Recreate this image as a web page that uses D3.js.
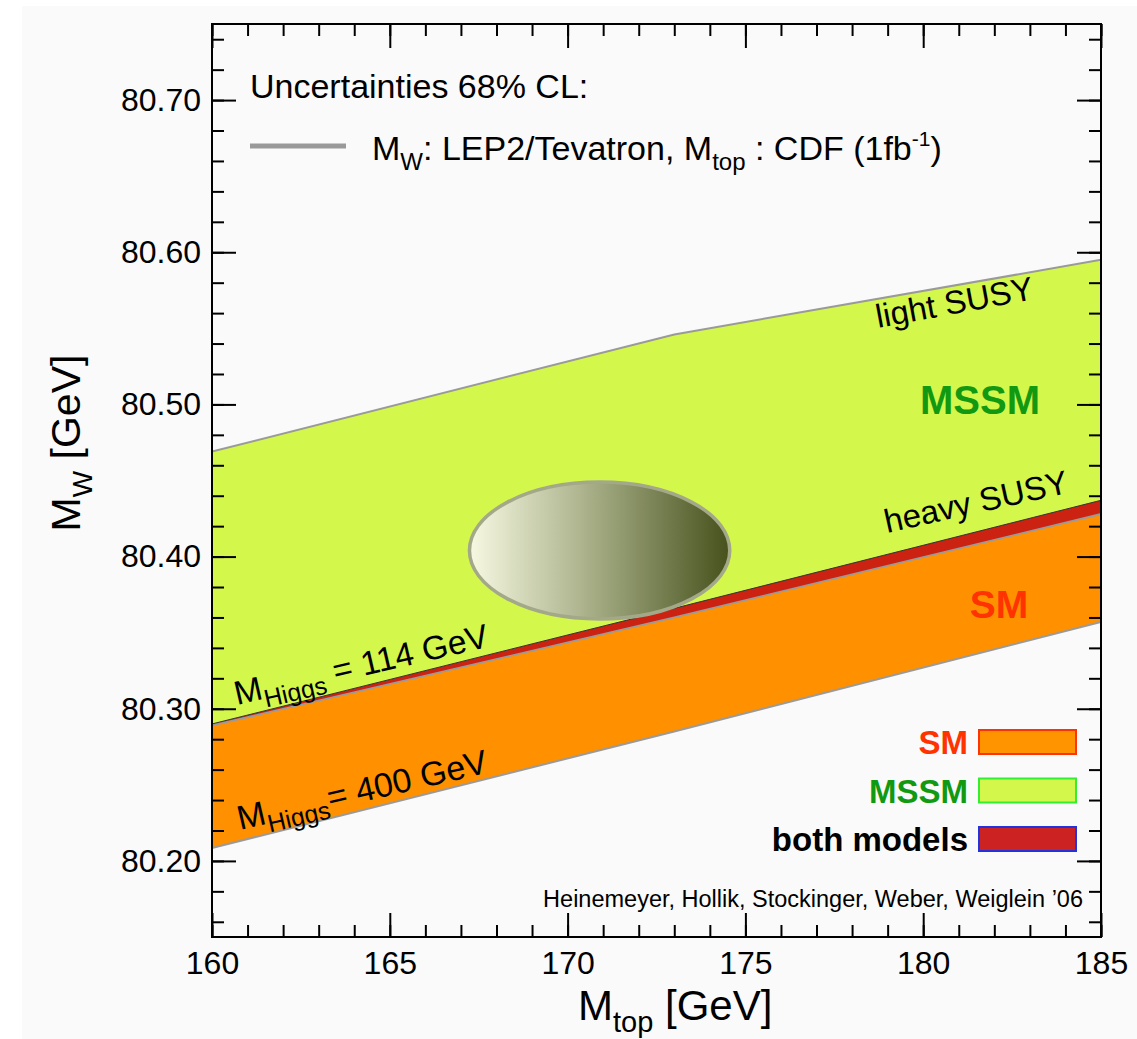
<!DOCTYPE html>
<html>
<head>
<meta charset="utf-8">
<script src="https://cdn.jsdelivr.net/npm/d3@7"></script>
<style>
  html, body { margin: 0; padding: 0; background: #ffffff; }
  svg { display: block; }
  text { font-family: "Liberation Sans", Arial, Helvetica, sans-serif; }
</style>
</head>
<body>
<svg id="chart" width="1137" height="1039"></svg>
<script>
// Top-quark mass grid (GeV) at which the band edges are sampled
const mtGrid = [160, 173, 185];
// MSSM upper edge (light SUSY), M_W in GeV
const mssmUpper = [80.469, 80.546, 80.595];
// SM upper edge, M_Higgs = 114 GeV (top of the overlap strip)
const smUpper = [80.290, 80.366, 80.437];
// MSSM lower edge, heavy SUSY (bottom of the overlap strip)
const mssmLower = [80.289, 80.360, 80.428];
// SM lower edge, M_Higgs = 400 GeV
const smLower = [80.2085, 80.285, 80.357];

// Experimental 68% CL ellipse: centre and half-widths (M_top, M_W)
const fitCenter = [170.9, 80.404];
const fitHalfWidth = [3.66, 0.045];

// Axis ticks
const xMajor = [160, 165, 170, 175, 180, 185];
const xMinor = d3.range(160, 186, 1);
const yMajor = [80.20, 80.30, 80.40, 80.50, 80.60, 80.70];
const yMinor = d3.range(80.16, 80.75, 0.02).map(v => +v.toFixed(2));

// Legend entries (bottom right)
const legendLabels = ["SM", "MSSM", "both models"];
const legendText = ["#ff3300", "#119911", "#000000"];
const legendFill = ["#ff9400", "#d4f74c", "#cc2222"];
const legendStroke = ["#ff3300", "#33ee33", "#2233dd"];

const svg = d3.select("#chart");
const W = 1137, H = 1039;
const m = { left: 212, right: 1101, top: 24, bottom: 937 };

svg.append("rect").attr("x", 22).attr("y", 6).attr("width", W - 22).attr("height", H - 6)
  .attr("fill", "#fafafa");

const x = d3.scaleLinear().domain([160, 185]).range([m.left, m.right]);
const y = d3.scaleLinear().domain([80.15, 80.75]).range([m.bottom, m.top]);

const defs = svg.append("defs");
defs.append("clipPath").attr("id", "plotClip")
  .append("rect").attr("x", m.left).attr("y", m.top)
  .attr("width", m.right - m.left).attr("height", m.bottom - m.top);

const grad = defs.append("linearGradient").attr("id", "fitGrad")
  .attr("x1", "0%").attr("x2", "100%").attr("y1", "0%").attr("y2", "0%");
grad.append("stop").attr("offset", "0%").attr("stop-color", "#f7f9e2");
grad.append("stop").attr("offset", "45%").attr("stop-color", "#aab18a");
grad.append("stop").attr("offset", "100%").attr("stop-color", "#46511c");

const plot = svg.append("g").attr("clip-path", "url(#plotClip)");

const band = (top, bottom) => d3.area()
  .x((d, i) => x(mtGrid[i]))
  .y0((d, i) => y(bottom[i]))
  .y1((d, i) => y(top[i]))(mtGrid);
const edge = vals => d3.line().x((d, i) => x(mtGrid[i])).y((d, i) => y(vals[i]))(mtGrid);

// MSSM band
plot.append("path").attr("d", band(mssmUpper, smUpper)).attr("fill", "#d4f74c");
// SM band
plot.append("path").attr("d", band(mssmLower, smLower)).attr("fill", "#ff9000");
// overlap of both models
plot.append("path").attr("d", band(smUpper, mssmLower)).attr("fill", "#cc2211");

plot.append("path").attr("d", edge(mssmUpper)).attr("fill", "none")
  .attr("stroke", "#9a9a9a").attr("stroke-width", 2);
plot.append("path").attr("d", edge(smUpper)).attr("fill", "none")
  .attr("stroke", "#333").attr("stroke-width", 1);
plot.append("path").attr("d", edge(mssmLower)).attr("fill", "none")
  .attr("stroke", "#9a9a9a").attr("stroke-width", 1.8);
plot.append("path").attr("d", edge(smLower)).attr("fill", "none")
  .attr("stroke", "#9a9a9a").attr("stroke-width", 2);

// experimental ellipse
plot.append("ellipse")
  .attr("cx", x(fitCenter[0])).attr("cy", y(fitCenter[1]))
  .attr("rx", x(fitCenter[0] + fitHalfWidth[0]) - x(fitCenter[0]))
  .attr("ry", y(fitCenter[1] - fitHalfWidth[1]) - y(fitCenter[1]))
  .attr("fill", "url(#fitGrad)").attr("stroke", "#a3a889").attr("stroke-width", 3.5);

// axes with inward ticks on all four sides
const fmtY = d3.format(".2f");
const styleAxis = g => {
  g.select(".domain").remove();
  g.selectAll("line").attr("stroke", "#000").attr("stroke-width", 2);
  g.selectAll("text").style("font-size", "32px").style("fill", "#000");
};
svg.append("g").attr("transform", `translate(0,${m.bottom})`)
  .call(d3.axisBottom(x).tickValues(xMinor).tickSize(-12).tickFormat(""))
  .call(styleAxis);
svg.append("g").attr("transform", `translate(0,${m.bottom})`)
  .call(d3.axisBottom(x).tickValues(xMajor).tickSize(-24).tickPadding(14).tickFormat(d3.format("d")))
  .call(styleAxis);
svg.append("g").attr("transform", `translate(0,${m.top})`)
  .call(d3.axisTop(x).tickValues(xMinor).tickSize(-12).tickFormat(""))
  .call(styleAxis);
svg.append("g").attr("transform", `translate(0,${m.top})`)
  .call(d3.axisTop(x).tickValues(xMajor).tickSize(-24).tickFormat(""))
  .call(styleAxis);
svg.append("g").attr("transform", `translate(${m.left},0)`)
  .call(d3.axisLeft(y).tickValues(yMinor).tickSize(-12).tickFormat(""))
  .call(styleAxis);
svg.append("g").attr("transform", `translate(${m.left},0)`)
  .call(d3.axisLeft(y).tickValues(yMajor).tickSize(-24).tickPadding(11).tickFormat(fmtY))
  .call(styleAxis);
svg.append("g").attr("transform", `translate(${m.right},0)`)
  .call(d3.axisRight(y).tickValues(yMinor).tickSize(-12).tickFormat(""))
  .call(styleAxis);
svg.append("g").attr("transform", `translate(${m.right},0)`)
  .call(d3.axisRight(y).tickValues(yMajor).tickSize(-24).tickFormat(""))
  .call(styleAxis);

svg.append("rect").attr("x", m.left).attr("y", m.top)
  .attr("width", m.right - m.left).attr("height", m.bottom - m.top)
  .attr("fill", "none").attr("stroke", "#000").attr("stroke-width", 2);

// axis titles
const xt = svg.append("text").attr("x", 578).attr("y", 1020).style("font-size", "42px").style("fill", "#000");
xt.append("tspan").text("M");
xt.append("tspan").attr("dy", 12).style("font-size", "29px").text("top");
xt.append("tspan").attr("dy", -12).text(" [GeV]");

const yt = svg.append("text").attr("transform", "translate(80,443) rotate(-90)")
  .attr("text-anchor", "middle").style("font-size", "41px").style("fill", "#000");
yt.append("tspan").text("M");
yt.append("tspan").attr("dy", 12).style("font-size", "28px").text("W");
yt.append("tspan").attr("dy", -12).text(" [GeV]");

// uncertainty legend
svg.append("text").attr("x", 250).attr("y", 98).style("font-size", "34px").style("fill", "#000")
  .text("Uncertainties 68% CL:");
svg.append("line").attr("x1", 250).attr("x2", 346).attr("y1", 146).attr("y2", 146)
  .attr("stroke", "#999").attr("stroke-width", 5);
const lt = svg.append("text").attr("x", 372).attr("y", 160).style("font-size", "34px").style("fill", "#000");
lt.append("tspan").text("M");
lt.append("tspan").attr("dy", 10).style("font-size", "24px").text("W");
lt.append("tspan").attr("dy", -10).text(": LEP2/Tevatron, M");
lt.append("tspan").attr("dy", 10).style("font-size", "24px").text("top");
lt.append("tspan").attr("dy", -10).text(" : CDF (1fb");
lt.append("tspan").attr("dy", -14).style("font-size", "21px").text("-1");
lt.append("tspan").attr("dy", 14).text(")");

// labels inside the plot
const rotLabel = (px, py, ang, size) => svg.append("text")
  .attr("transform", `translate(${px},${py}) rotate(${ang})`)
  .style("font-size", size + "px").style("fill", "#000");

rotLabel(878, 328, -10.5, 33).text("light SUSY");
rotLabel(887, 533, -12.5, 33).text("heavy SUSY");

const h114 = rotLabel(237, 705, -13, 33.5);
h114.append("tspan").text("M");
h114.append("tspan").attr("dy", 9).style("font-size", "25px").text("Higgs");
h114.append("tspan").attr("dy", -9).text(" = 114 GeV");

const h400 = rotLabel(240, 830, -13, 34);
h400.append("tspan").text("M");
h400.append("tspan").attr("dy", 9).style("font-size", "25px").text("Higgs");
h400.append("tspan").attr("dy", -9).text("= 400 GeV");

svg.append("text").attr("x", 980).attr("y", 414).attr("text-anchor", "middle")
  .style("font-size", "40px").style("font-weight", "bold").style("fill", "#119911").text("MSSM");
svg.append("text").attr("x", 999).attr("y", 618).attr("text-anchor", "middle")
  .style("font-size", "39px").style("font-weight", "bold").style("fill", "#ff3300").text("SM");

// model legend
const lg = svg.append("g");
legendLabels.forEach((lab, i) => {
  const ry = 730 + i * 48.5;
  lg.append("rect").attr("x", 979).attr("y", ry).attr("width", 97).attr("height", 24)
    .attr("fill", legendFill[i]).attr("stroke", legendStroke[i]).attr("stroke-width", 2);
  lg.append("text").attr("x", 968).attr("y", ry + 24).attr("text-anchor", "end")
    .style("font-size", "33px").style("font-weight", "bold").style("fill", legendText[i]).text(lab);
});

svg.append("text").attr("x", 1083).attr("y", 907).attr("text-anchor", "end")
  .style("font-size", "23.5px").style("fill", "#000")
  .text("Heinemeyer, Hollik, Stockinger, Weber, Weiglein \u201906");
</script>
</body>
</html>
